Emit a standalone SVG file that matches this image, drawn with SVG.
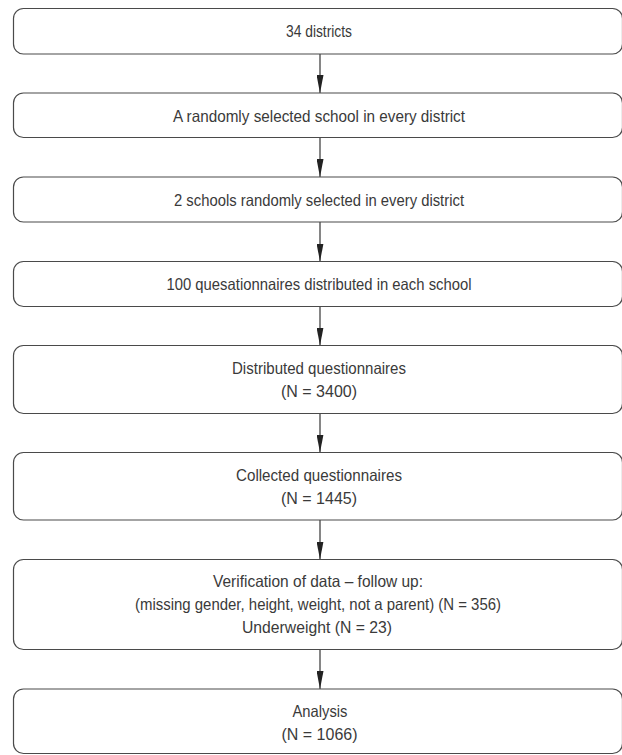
<svg xmlns="http://www.w3.org/2000/svg" width="622" height="755" viewBox="0 0 622 755">
<style>
.box{fill:#fff;stroke:#4a4a4a;stroke-width:1.2}
.t{font-family:"Liberation Sans Narrow","Liberation Sans",Arial,sans-serif;font-size:16.5px;fill:#3a3a3a;text-anchor:middle}
.c{stroke:#222;stroke-width:1.1;fill:none;marker-end:url(#ah)}
</style>
<defs>
<marker id="ah" viewBox="0 0 18 7" refX="18" refY="3.5" markerWidth="18" markerHeight="7" markerUnits="userSpaceOnUse" orient="auto">
<path d="M0,0 L18,3.5 L0,7 z" fill="#222"/>
</marker>
</defs>
<rect width="622" height="755" fill="#fff"/>
<g id="connectors">
<path class="c" d="M320 54 V93"/>
<path class="c" d="M320 137.5 V177"/>
<path class="c" d="M320 222 V261.5"/>
<path class="c" d="M320 306.5 V345.5"/>
<path class="c" d="M320 413.5 V452.5"/>
<path class="c" d="M320 520 V559.5"/>
<path class="c" d="M320 649.5 V689"/>
</g>
<g id="n1"><rect class="box" x="13.5" y="8.5" width="609" height="45.5" rx="10"/>
<text class="t" x="319" y="37" textLength="66" lengthAdjust="spacingAndGlyphs">34 districts</text></g>
<g id="n2"><rect class="box" x="13.5" y="93" width="609" height="44.5" rx="10"/>
<text class="t" x="319" y="121.5" textLength="292" lengthAdjust="spacingAndGlyphs">A randomly selected school in every district</text></g>
<g id="n3"><rect class="box" x="13.5" y="177" width="609" height="45" rx="10"/>
<text class="t" x="319" y="205.5" textLength="290" lengthAdjust="spacingAndGlyphs">2 schools randomly selected in every district</text></g>
<g id="n4"><rect class="box" x="13.5" y="261.5" width="609" height="45" rx="10"/>
<text class="t" x="319" y="290" textLength="305" lengthAdjust="spacingAndGlyphs">100 quesationnaires distributed in each school</text></g>
<g id="n5"><rect class="box" x="13.5" y="345.5" width="609" height="68" rx="10"/>
<text class="t" x="319" y="373.5" textLength="174" lengthAdjust="spacingAndGlyphs">Distributed questionnaires</text>
<text class="t" x="319" y="397" textLength="76" lengthAdjust="spacingAndGlyphs">(N = 3400)</text></g>
<g id="n6"><rect class="box" x="13.5" y="452.5" width="609" height="67.5" rx="10"/>
<text class="t" x="319" y="480.5" textLength="166" lengthAdjust="spacingAndGlyphs">Collected questionnaires</text>
<text class="t" x="319" y="504" textLength="76" lengthAdjust="spacingAndGlyphs">(N = 1445)</text></g>
<g id="n7"><rect class="box" x="13.5" y="559.5" width="609" height="90" rx="10"/>
<text class="t" x="318" y="587" textLength="210" lengthAdjust="spacingAndGlyphs">Verification of data – follow up:</text>
<text class="t" x="318" y="610" textLength="366" lengthAdjust="spacingAndGlyphs">(missing gender, height, weight, not a parent) (N = 356)</text>
<text class="t" x="317" y="633" textLength="150" lengthAdjust="spacingAndGlyphs">Underweight (N = 23)</text></g>
<g id="n8"><rect class="box" x="13.5" y="689" width="609" height="64.5" rx="10"/>
<text class="t" x="320" y="716.5" textLength="55" lengthAdjust="spacingAndGlyphs">Analysis</text>
<text class="t" x="319.5" y="739.5" textLength="76" lengthAdjust="spacingAndGlyphs">(N = 1066)</text></g>
</svg>
